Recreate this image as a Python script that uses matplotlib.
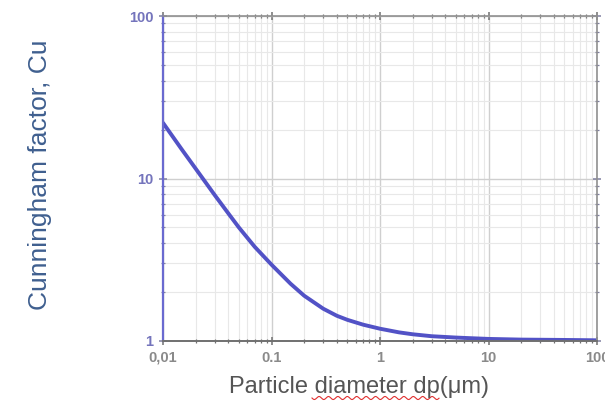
import numpy as np
import matplotlib
matplotlib.use("Agg")
import matplotlib.pyplot as plt
from matplotlib.ticker import FixedLocator, LogLocator, NullFormatter
from matplotlib.lines import Line2D

# Data
diameter_um = [0.01, 0.015, 0.02, 0.03, 0.04, 0.05, 0.07, 0.1, 0.15, 0.2, 0.3,
               0.4, 0.5, 0.7, 1, 1.5, 2, 3, 5, 7, 10, 20, 50, 100]
cunningham = [22.0, 15.0, 11.5, 7.9, 6.1, 5.0, 3.8, 2.95, 2.25, 1.9, 1.58,
              1.43, 1.35, 1.26, 1.19, 1.13, 1.10, 1.07, 1.05, 1.04, 1.03,
              1.02, 1.015, 1.01]
x_ticks = [0.01, 0.1, 1, 10, 100]
x_tick_labels = ["0,01", "0.1", "1", "10", "100"]
y_ticks = [1, 10, 100]
y_tick_labels = ["1", "10", "100"]

plt.rcParams['font.family'] = ['Liberation Sans', 'DejaVu Sans']

fig = plt.figure(figsize=(6.05, 4.01), dpi=100)
ax = fig.add_axes([163/605, 1-341/401, (597-163)/605, (341-16)/401])

ax.plot(diameter_um, cunningham, color="#5252c6", lw=2.8,
        solid_capstyle="round", solid_joinstyle="round")

ax.set_xscale("log")
ax.set_yscale("log")
ax.set_xlim(0.01, 100)
ax.set_ylim(1, 100)

ax.xaxis.set_major_locator(FixedLocator(x_ticks))
ax.set_xticklabels(x_tick_labels)
ax.yaxis.set_major_locator(FixedLocator(y_ticks))
ax.set_yticklabels(y_tick_labels)
ax.xaxis.set_minor_locator(LogLocator(base=10, subs=np.arange(2, 10), numticks=20))
ax.yaxis.set_minor_locator(LogLocator(base=10, subs=np.arange(2, 10), numticks=20))
ax.xaxis.set_minor_formatter(NullFormatter())
ax.yaxis.set_minor_formatter(NullFormatter())

ax.grid(True, which="major", color="#cfcfcf", lw=1.0)
ax.grid(True, which="minor", color="#e8e8e8", lw=0.8)
ax.set_axisbelow(True)

for s in ["top", "right"]:
    ax.spines[s].set_color("#909090")
    ax.spines[s].set_linewidth(1.2)
ax.spines["bottom"].set_color("#707070")
ax.spines["bottom"].set_linewidth(1.4)
ax.spines["left"].set_color("#6a6ad0")
ax.spines["left"].set_linewidth(1.6)

ax.tick_params(axis="x", which="both", direction="inout", top=True, colors="#707070",
               labelcolor="#8a8a8a", labelsize=10.5, pad=4)
ax.tick_params(axis="y", which="both", direction="inout", right=True, colors="#8080a0",
               labelcolor="#7474bc", labelsize=10.5, pad=4)
ax.tick_params(which="major", length=6, width=1.1)
ax.tick_params(which="minor", length=3, width=0.9)
for lab in ax.get_xticklabels() + ax.get_yticklabels():
    lab.set_fontweight("bold")

fig.text(359/605, 1-387/401, "Particle diameter dp(μm)", fontsize=17,
         color="#555555", ha="center", va="center")
fig.text(40/605, 1-175/401, "Cunningham factor, Cu", rotation=90, fontsize=19,
         color="#3f5f8f", ha="center", va="center")

# red spell-check squiggle under "diameter dp"
xs = np.linspace(312, 439, 250)
ys = 398 + 1.5*np.sin((xs - 312) / 1.5)
fig.add_artist(Line2D(xs/605, 1 - ys/401, color="#e03030", lw=0.8, transform=fig.transFigure))

fig.savefig("out.png", dpi=100, facecolor="white")
